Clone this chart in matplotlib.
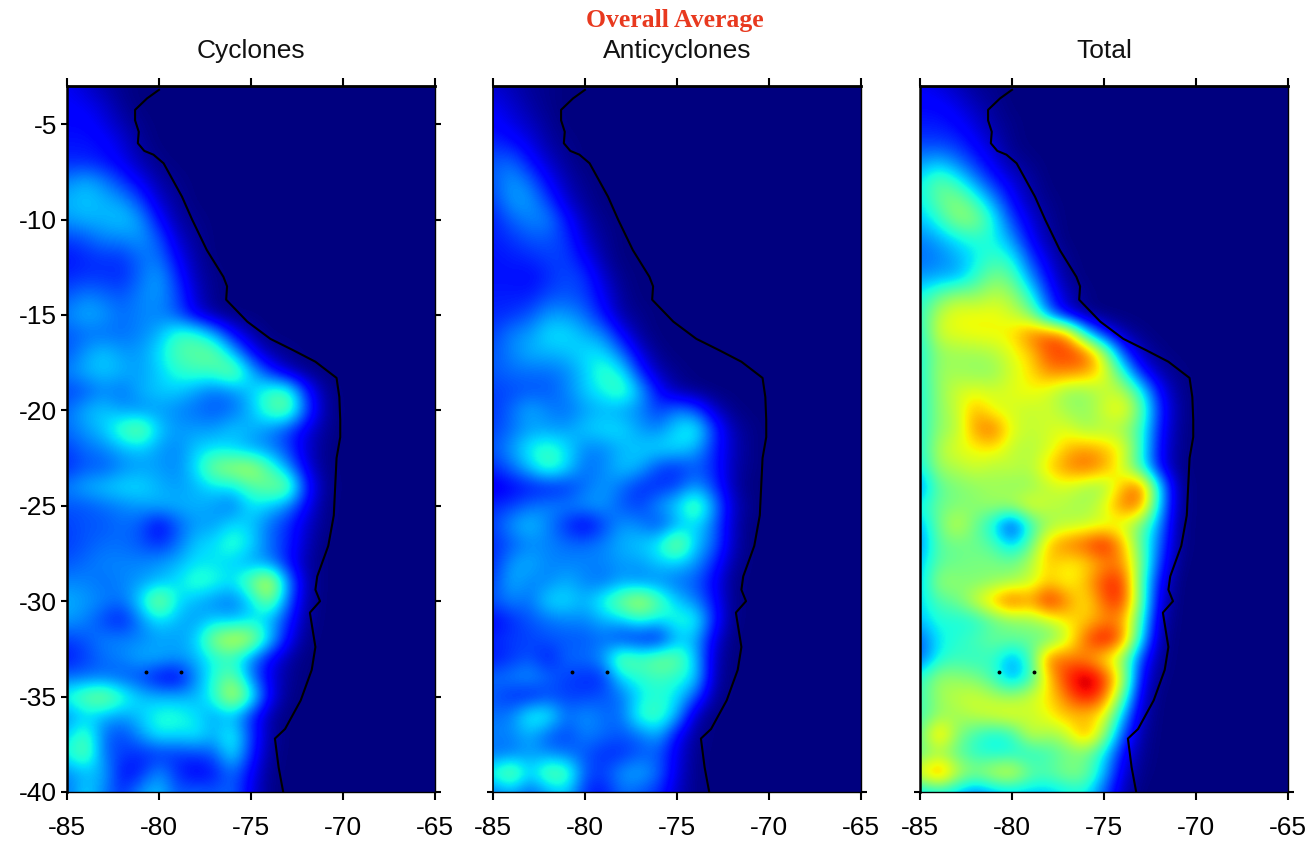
#!/usr/bin/python3
import numpy as np
import matplotlib
matplotlib.use("Agg")
import matplotlib.pyplot as plt

W, H = 1306, 843
AX_LEFT = [67, 493, 920]
AX_W = 368
AX_TOP, AX_BOTTOM = 86, 792
# top of the colour range for each panel
V_MAX = [86, 86, 96]

titles = ["Cyclones", "Anticyclones", "Total"]
suptitle = "Overall Average"
x_ticks = [-85, -80, -75, -70, -65]
y_ticks = [-5, -10, -15, -20, -25, -30, -35, -40]

# grid of the maps: one row per degree of latitude, one value per degree of
# longitude starting at -85, in percent of the colour range. rows are left
# open on the east side, everything past the end is land (0)
lats = list(range(-3, -41, -1))
lons = list(range(-85, -64))

cyclones = [
	[9, 6, 3, 1],
	[10, 9, 6, 2],
	[11, 11, 8, 4, 1],
	[12, 12, 11, 7, 2],
	[14, 14, 12, 9, 4, 1],
	[22, 26, 22, 15, 9, 3, 1],
	[26, 28, 26, 24, 16, 6, 2],
	[24, 26, 26, 28, 24, 11, 3, 1],
	[16, 18, 22, 22, 24, 18, 6, 2],
	[12, 14, 15, 15, 20, 21, 10, 3],
	[14, 15, 15, 14, 20, 25, 14, 4, 1],
	[18, 22, 20, 18, 22, 24, 17, 6, 1],
	[22, 26, 24, 20, 22, 22, 18, 8, 2],
	[18, 20, 20, 20, 22, 26, 36, 36, 26, 11, 3],
	[18, 24, 28, 24, 24, 30, 38, 40, 42, 28, 12, 3, 1],
	[22, 26, 28, 26, 24, 28, 34, 36, 36, 44, 28, 15, 5, 1],
	[16, 18, 22, 20, 26, 28, 28, 24, 20, 22, 28, 36, 38, 14, 2],
	[20, 26, 28, 24, 22, 24, 22, 20, 18, 20, 26, 38, 42, 18, 3],
	[20, 24, 28, 38, 44, 28, 24, 24, 24, 28, 26, 22, 16, 8, 2],
	[16, 20, 22, 26, 28, 24, 22, 28, 30, 28, 24, 22, 16, 6, 1],
	[14, 18, 18, 22, 24, 24, 22, 30, 44, 48, 50, 38, 24, 8, 1],
	[22, 26, 28, 30, 30, 26, 24, 26, 30, 30, 38, 42, 44, 14, 2],
	[18, 18, 20, 22, 24, 26, 26, 26, 24, 20, 30, 28, 22, 10, 1],
	[16, 18, 18, 20, 18, 9, 18, 24, 24, 30, 28, 20, 14, 6, 1],
	[16, 18, 20, 20, 18, 14, 20, 28, 30, 36, 30, 20, 14, 5],
	[18, 20, 22, 22, 22, 24, 26, 30, 30, 28, 24, 22, 12, 3],
	[22, 22, 20, 22, 24, 26, 30, 36, 34, 30, 42, 56, 24, 4],
	[26, 24, 22, 20, 30, 48, 30, 26, 22, 20, 28, 44, 20, 3],
	[24, 22, 16, 12, 22, 30, 26, 24, 28, 26, 30, 26, 14, 2],
	[16, 18, 22, 22, 22, 24, 24, 28, 46, 54, 50, 30, 10, 1],
	[12, 16, 20, 22, 26, 26, 24, 26, 32, 34, 22, 10, 3],
	[20, 20, 20, 18, 16, 10, 8, 22, 34, 42, 22, 8, 2],
	[34, 42, 46, 36, 28, 26, 26, 26, 34, 54, 36, 10, 1],
	[22, 28, 26, 24, 28, 34, 34, 30, 24, 26, 14, 3],
	[28, 38, 20, 16, 24, 32, 30, 32, 26, 34, 16, 3],
	[32, 42, 20, 16, 14, 14, 15, 16, 18, 32, 14, 2],
	[22, 26, 26, 11, 13, 24, 14, 9, 12, 20, 10, 1],
	[20, 30, 22, 14, 24, 28, 18, 20, 18, 20, 8, 1],
]

anticyclones = [
	[6, 4, 2, 1],
	[9, 6, 3, 1],
	[11, 8, 5, 2],
	[14, 12, 8, 3, 1],
	[18, 20, 12, 6, 2],
	[18, 24, 20, 10, 4, 1],
	[16, 24, 24, 16, 6, 2],
	[13, 19, 22, 22, 12, 4, 1],
	[13, 15, 18, 18, 15, 6, 2],
	[12, 13, 14, 16, 16, 10, 3],
	[12, 12, 11, 14, 17, 15, 6, 1],
	[13, 13, 13, 17, 18, 16, 9, 2],
	[14, 15, 18, 24, 24, 20, 12, 3, 1],
	[16, 22, 24, 30, 30, 26, 22, 10, 2],
	[18, 22, 26, 26, 27, 30, 30, 20, 7, 1],
	[18, 20, 20, 20, 22, 28, 36, 32, 14, 4, 1],
	[16, 17, 18, 18, 22, 28, 32, 38, 26, 11, 3, 1],
	[15, 20, 26, 22, 20, 24, 26, 24, 22, 15, 22, 18, 6, 1],
	[16, 20, 24, 24, 24, 28, 30, 30, 24, 22, 30, 34, 16, 4, 1],
	[18, 24, 32, 36, 30, 22, 22, 26, 28, 30, 30, 26, 14, 5, 1],
	[14, 20, 28, 38, 30, 20, 22, 28, 26, 16, 14, 18, 14, 4, 1],
	[8, 10, 12, 12, 14, 20, 24, 20, 14, 14, 16, 24, 16, 4],
	[14, 16, 20, 22, 22, 24, 24, 18, 16, 24, 30, 42, 24, 6, 1],
	[16, 24, 28, 22, 14, 8, 16, 24, 22, 16, 24, 30, 20, 5],
	[14, 18, 22, 22, 20, 20, 22, 26, 28, 32, 48, 28, 20, 5],
	[14, 24, 26, 22, 22, 22, 22, 24, 24, 28, 28, 24, 14, 3],
	[16, 26, 22, 22, 26, 22, 20, 24, 22, 22, 20, 18, 10, 1],
	[18, 22, 20, 30, 30, 26, 34, 44, 52, 40, 28, 22, 12, 1],
	[10, 14, 18, 20, 22, 22, 26, 28, 34, 30, 34, 34, 14, 1],
	[14, 16, 16, 18, 18, 18, 20, 14, 12, 10, 26, 26, 8],
	[12, 15, 18, 12, 20, 20, 24, 44, 38, 44, 42, 28, 5],
	[20, 22, 24, 20, 16, 14, 14, 30, 34, 36, 34, 30, 4],
	[18, 14, 12, 16, 16, 16, 18, 20, 30, 34, 30, 18, 2],
	[20, 22, 34, 34, 20, 24, 20, 20, 36, 38, 26, 4],
	[22, 22, 26, 18, 16, 22, 20, 18, 20, 26, 10, 2],
	[20, 20, 24, 22, 20, 18, 14, 14, 18, 18, 8, 1],
	[34, 46, 28, 42, 40, 18, 16, 24, 26, 20, 7, 1],
	[20, 24, 18, 24, 28, 14, 12, 20, 18, 14, 5, 1],
]

total = [
	[10, 8, 5, 2, 1],
	[12, 12, 9, 5, 2],
	[14, 14, 12, 8, 3, 1],
	[18, 18, 16, 11, 6, 1],
	[26, 30, 24, 16, 9, 3, 1],
	[34, 45, 38, 26, 15, 8, 3],
	[34, 45, 50, 40, 26, 12, 4, 1],
	[30, 38, 50, 50, 36, 18, 8, 2],
	[24, 28, 34, 38, 36, 26, 11, 3],
	[22, 24, 28, 34, 40, 36, 18, 7, 1],
	[26, 28, 28, 38, 48, 44, 26, 11, 2],
	[36, 45, 52, 50, 56, 52, 38, 16, 5, 1],
	[38, 56, 62, 62, 62, 58, 50, 24, 8, 1],
	[36, 58, 60, 62, 62, 64, 76, 80, 74, 36, 14, 4, 1],
	[36, 50, 52, 52, 54, 60, 66, 80, 82, 80, 56, 20, 5, 1],
	[36, 52, 52, 50, 50, 58, 64, 74, 74, 72, 62, 40, 14, 4, 1],
	[36, 50, 58, 60, 58, 60, 62, 58, 50, 50, 56, 56, 38, 12, 2],
	[36, 50, 56, 70, 60, 58, 56, 58, 52, 50, 58, 64, 46, 16, 3],
	[36, 50, 54, 72, 78, 60, 56, 58, 60, 52, 54, 52, 40, 14, 2],
	[36, 54, 60, 62, 64, 56, 54, 58, 68, 72, 68, 62, 40, 12, 2],
	[34, 52, 54, 58, 54, 56, 54, 66, 74, 78, 72, 58, 38, 12, 1],
	[24, 44, 48, 50, 52, 50, 50, 56, 58, 52, 50, 68, 80, 34, 3],
	[36, 46, 48, 50, 52, 54, 62, 56, 54, 52, 60, 76, 76, 32, 3],
	[28, 46, 58, 46, 34, 12, 38, 52, 54, 56, 58, 58, 46, 26, 2],
	[24, 44, 46, 46, 42, 30, 44, 68, 76, 80, 88, 70, 44, 22, 2],
	[30, 44, 46, 48, 48, 46, 54, 68, 62, 64, 72, 74, 48, 18, 1],
	[30, 52, 50, 48, 50, 52, 56, 66, 60, 68, 82, 84, 44, 12],
	[32, 42, 46, 58, 70, 82, 72, 88, 74, 62, 78, 84, 46, 8],
	[30, 38, 36, 36, 44, 48, 50, 56, 64, 66, 72, 72, 40, 5],
	[20, 34, 38, 42, 46, 46, 46, 44, 56, 78, 90, 78, 34, 3],
	[20, 36, 40, 38, 40, 26, 40, 78, 76, 72, 62, 50, 18, 2],
	[38, 52, 50, 48, 40, 26, 38, 66, 84, 94, 84, 58, 12, 1],
	[40, 52, 56, 58, 54, 52, 58, 64, 76, 88, 78, 46, 8],
	[40, 50, 52, 56, 60, 62, 56, 62, 68, 66, 62, 30, 5],
	[44, 72, 50, 40, 34, 38, 58, 52, 56, 74, 52, 20, 3],
	[44, 50, 44, 38, 36, 36, 36, 40, 46, 46, 34, 12, 2],
	[62, 80, 58, 50, 58, 62, 46, 44, 50, 48, 30, 8, 1],
	[30, 34, 30, 22, 28, 30, 30, 30, 34, 36, 20, 5],
]

coast_lon = [-80.0, -80.65, -81.3, -81.3, -81.1, -81.15, -80.8, -80.3, -79.75, -78.75,
	-78.2, -77.4, -76.5, -76.3, -76.35, -75.2, -73.95, -72.7, -71.5, -70.35,
	-70.2, -70.15, -70.15, -70.35, -70.5, -70.8, -71.4, -71.5, -71.25, -71.8,
	-71.5, -71.7, -72.3, -73.15, -73.7, -73.5, -73.25]
coast_lat = [-3.2, -3.65, -4.25, -4.8, -5.4, -6.0, -6.4, -6.6, -7.05, -8.8,
	-10.0, -11.6, -13.0, -13.5, -14.2, -15.35, -16.25, -16.85, -17.45, -18.3,
	-19.3, -20.5, -21.4, -22.5, -25.5, -27.1, -28.7, -29.4, -30.0, -30.6,
	-32.4, -33.6, -35.2, -36.7, -37.2, -38.7, -40.0]

island_lon = [-80.7, -78.8]
island_lat = [-33.7, -33.7]


def to_grid(rows):
	grid = np.zeros((len(lats), len(lons)))
	for i, row in enumerate(rows):
		grid[i, :len(row)] = row
	return grid


plt.rcParams["font.family"] = ["Liberation Sans", "DejaVu Sans"]
fig = plt.figure(figsize=(W / 100., H / 100.), dpi=100)

for i, data in enumerate([cyclones, anticyclones, total]):
	ax = fig.add_axes([AX_LEFT[i] / W, 1 - AX_BOTTOM / H, AX_W / W, (AX_BOTTOM - AX_TOP) / H])
	ax.imshow(to_grid(data), cmap="jet", vmin=0, vmax=V_MAX[i], aspect="auto", interpolation="bicubic",
		extent=(lons[0] - .5, lons[-1] + .5, lats[-1] - .5, lats[0] + .5))
	ax.plot(coast_lon, coast_lat, color="black", lw=1.5)
	ax.plot(island_lon, island_lat, ls="none", marker="o", color="black", ms=1.8)
	ax.set_xlim(-85, -65)
	ax.set_ylim(-40, -3)

	ax.set_xticks(x_ticks)
	ax.set_xticklabels(x_ticks)
	ax.tick_params(axis="x", top=True, direction="out", length=5.5, width=1.5, labelsize=19, pad=12, color="black")
	if i == 0:
		ax.set_yticks(y_ticks)
		ax.set_yticklabels(y_ticks)
	else:
		ax.set_yticks([-40])
		ax.set_yticklabels([])
	ax.tick_params(axis="y", right=True, direction="out", length=4, width=1.5, labelsize=19, pad=3, color="black")

	ax.spines["top"].set_linewidth(2)
	ax.spines["left"].set_linewidth(1.8 if i != 1 else 1.2)
	ax.spines["right"].set_linewidth(1)
	ax.spines["bottom"].set_linewidth(1)
	ax.set_title(titles[i], fontsize=19, pad=20, color="#111111")

fig.text(675 / W, 1 - 20 / H, suptitle, color="#e8391f", fontsize=18.5, fontweight="bold",
	family=["Liberation Serif", "DejaVu Serif"], ha="center", va="center")

fig.savefig("out.png", dpi=100)
